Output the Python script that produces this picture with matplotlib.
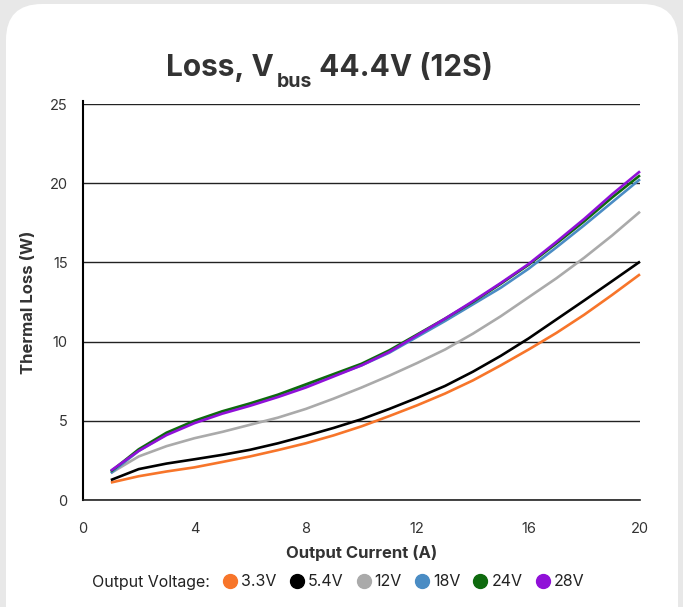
import matplotlib
matplotlib.use("Agg")
import matplotlib.pyplot as plt
from matplotlib.patches import FancyBboxPatch
from matplotlib.lines import Line2D
import numpy as np

plt.rcParams['font.family'] = ['Inter', 'DejaVu Sans']

current = [1, 2, 3, 4, 5, 6, 7, 8, 9, 10, 11, 12, 13, 14, 15, 16, 17, 18, 19, 20]
loss_3v3 = [1.1, 1.5, 1.8, 2.06, 2.4, 2.75, 3.15, 3.58, 4.08, 4.65, 5.3, 5.98, 6.72, 7.55, 8.5, 9.5, 10.55, 11.7, 12.95, 14.25]
loss_5v4 = [1.26, 1.95, 2.3, 2.57, 2.85, 3.17, 3.58, 4.05, 4.55, 5.1, 5.75, 6.45, 7.2, 8.1, 9.1, 10.2, 11.4, 12.6, 13.82, 15.05]
loss_12v = [1.7, 2.75, 3.4, 3.9, 4.3, 4.75, 5.2, 5.75, 6.4, 7.1, 7.85, 8.65, 9.5, 10.5, 11.6, 12.8, 14.0, 15.3, 16.7, 18.2]
loss_18v = [1.7, 3.1, 4.15, 4.95, 5.55, 6.0, 6.55, 7.2, 7.85, 8.5, 9.3, 10.3, 11.3, 12.35, 13.4, 14.6, 15.95, 17.35, 18.8, 20.25]
loss_24v = [1.8, 3.2, 4.25, 5.0, 5.6, 6.1, 6.65, 7.3, 7.95, 8.6, 9.45, 10.45, 11.45, 12.5, 13.65, 14.85, 16.2, 17.6, 19.1, 20.5]
loss_28v = [1.85, 3.1, 4.1, 4.85, 5.45, 5.95, 6.5, 7.1, 7.8, 8.5, 9.35, 10.4, 11.45, 12.55, 13.7, 14.9, 16.3, 17.75, 19.3, 20.75]

series_labels = ["3.3V", "5.4V", "12V", "18V", "24V", "28V"]
series_colors = ["#f7752a", "#000000", "#aaaaaa", "#4a8cc4", "#0e6a0e", "#9010d8"]
series_values = [loss_3v3, loss_5v4, loss_12v, loss_18v, loss_24v, loss_28v]

x_ticks = [0, 4, 8, 12, 16, 20]
y_ticks = [0, 5, 10, 15, 20, 25]

W, H = 683, 607
fig = plt.figure(figsize=(W / 100, H / 100), dpi=100)
fig.patch.set_facecolor("#e8e8e8")

bg = fig.add_axes([0, 0, 1, 1], zorder=-10)
bg.set_xlim(0, W)
bg.set_ylim(H, 0)
bg.axis("off")
card = FancyBboxPatch((6, 4), 672, H + 100,
                      boxstyle="round,pad=0,rounding_size=36",
                      facecolor="white", edgecolor="none")
bg.add_patch(card)

ax = fig.add_axes([83 / W, (H - 500) / H, (640 - 83) / W, (500 - 104) / H], zorder=1)
ax.set_facecolor("none")

for vals, c in zip(series_values, series_colors):
    ax.plot(current, vals, color=c, lw=1.9, solid_capstyle="butt",
            solid_joinstyle="round", zorder=3, clip_on=False)

ax.set_xlim(0, 20)
ax.set_ylim(0, 25)
ax.set_xticks(x_ticks)
ax.set_yticks(y_ticks)
ax.tick_params(length=0, labelsize=10.5, labelcolor="#333333")
ax.tick_params(axis="x", pad=16)
ax.tick_params(axis="y", pad=11)
for s in ["top", "right"]:
    ax.spines[s].set_visible(False)
ax.spines["left"].set_color("black")
ax.spines["left"].set_linewidth(1.5)
ax.spines["left"].set_bounds(0, 25.2)
ax.spines["bottom"].set_color("#222222")
ax.spines["bottom"].set_linewidth(1.2)
ax.yaxis.grid(True, color="#222222", lw=1.0)
ax.set_axisbelow(True)

ax.set_xlabel("Output Current (A)", fontsize=12, fontweight="bold", color="#333333", labelpad=6)
ax.set_ylabel("Thermal Loss (W)", fontsize=12, fontweight="bold", color="#333333", labelpad=10)

# Title with subscript
fig.canvas.draw()
renderer = fig.canvas.get_renderer()
tstyle = dict(fontsize=21.5, fontweight="bold", color="#333333")
ty = 1 - 76 / H
t1 = fig.text(0, ty, "Loss, V", va="baseline", **tstyle)
t2 = fig.text(0, ty - 11 / H, "bus", va="baseline", fontsize=14, fontweight="bold", color="#333333")
t3 = fig.text(0, ty, " 44.4V (12S)", va="baseline", **tstyle)
w1 = t1.get_window_extent(renderer).width
w2 = t2.get_window_extent(renderer).width
w3 = t3.get_window_extent(renderer).width
total = w1 + w2 + w3 + 3
x0 = (329 - total / 2)
t1.set_x(x0 / W)
t2.set_x((x0 + w1 + 3) / W)
t3.set_x((x0 + w1 + w2 + 3) / W)

handles = [Line2D([], [], linestyle="none", marker=None)]
labels = ["Output Voltage:"]
for lab, c in zip(series_labels, series_colors):
    handles.append(Line2D([], [], linestyle="none", marker="o", markersize=10,
                          markerfacecolor=c, markeredgecolor=c))
    labels.append(lab)
leg = fig.legend(handles, labels, loc="center", bbox_to_anchor=(330 / W, 1 - 582 / H),
                 ncol=7, frameon=False, fontsize=11.5, handlelength=0.7,
                 handletextpad=0.35, columnspacing=0.9, labelcolor="#222222")

fig.savefig("out.png", dpi=100, facecolor=fig.get_facecolor())
